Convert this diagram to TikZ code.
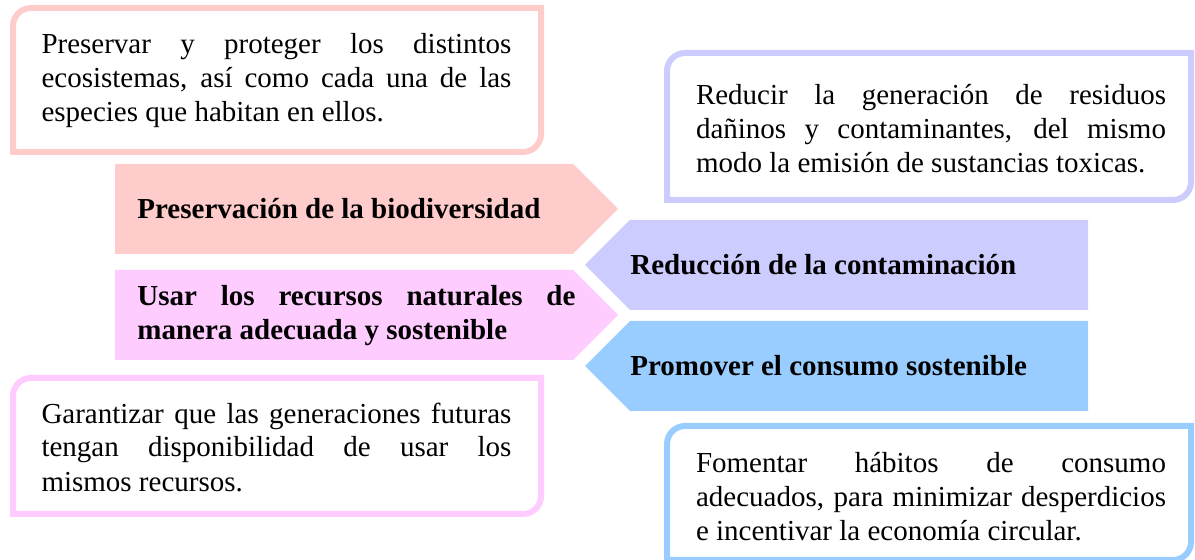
\documentclass[tikz,border=0pt]{standalone}
\usepackage{fontspec}
\setmainfont{Liberation Serif}
\usetikzlibrary{positioning}

\definecolor{pinkA}{HTML}{FFCCCC}
\definecolor{pinkB}{HTML}{FFCCFF}
\definecolor{lilac}{HTML}{CCCCFF}
\definecolor{skyblue}{HTML}{99CCFF}

\begin{document}
\begin{tikzpicture}[
x=0.5pt,y=-0.5pt,
note/.style={
text width=235pt,
align=justify,
inner sep=0pt,
font=\fontsize{14.5}{17}\selectfont,
execute at begin node={\hyphenpenalty=10000\exhyphenpenalty=10000}
},
bartext/.style={
anchor=west,
inner sep=0pt,
font=\fontsize{14.5}{17}\selectfont\bfseries,
execute at begin node={\hyphenpenalty=10000\exhyphenpenalty=10000}
},
frame/.style={
line width=3pt,
line cap=rect,
rounded corners=9pt
}]

\useasboundingbox (0,0) rectangle (1195,560);

% arrows
\fill[pinkA] (115,164) -- (573,164) -- (618,209) -- (573,254) -- (115,254) -- cycle;
\fill[pinkB] (115,270) -- (573,270) -- (618,315) -- (573,360) -- (115,360) -- cycle;
\fill[lilac] (1088,220) -- (630,220) -- (585,265) -- (630,310) -- (1088,310) -- cycle;
\fill[skyblue] (1088,321) -- (630,321) -- (585,366) -- (630,411) -- (1088,411) -- cycle;

\node[bartext] (biodiv) at (137,209) {Preservación de la biodiversidad};
\node[bartext,text width=219pt,align=justify] (recursos) at (137,316)
{Usar los recursos naturales de\linebreak manera adecuada y sostenible};
\node[bartext] (contam) at (630,265) {Reducción de la contaminación};
\node[bartext] (consumo) at (630,366) {Promover el consumo sostenible};

% frames: two rounded corners, two square ones
\draw[frame,draw=pinkA] (541,8) -- (541,152) -- (13,152) (13,152) -- (13,8) -- (541,8);
\draw[frame,draw=lilac] (1191,53) -- (1191,200) -- (667,200) (667,200) -- (667,53) -- (1191,53);
\draw[frame,draw=pinkB] (541,378) -- (541,514) -- (13,514) (13,514) -- (13,378) -- (541,378);
\draw[frame,draw=skyblue] (1191,426) -- (1191,560) -- (667,560) (667,560) -- (667,426) -- (1191,426);

\node[note] (nbiodiv) at (276.5,81)
{Preservar y proteger los distintos\linebreak ecosistemas, así como cada una de las\linebreak especies que habitan en ellos.};
\node[note] (ncontam) at (931,129)
{Reducir la generación de residuos\linebreak dañinos y contaminantes, del mismo\linebreak modo la emisión de sustancias toxicas.};
\node[note] (nrecursos) at (276.5,447)
{Garantizar que las generaciones futuras\linebreak tengan disponibilidad de usar los\linebreak mismos recursos.};
\node[note] (nconsumo) at (931,497)
{Fomentar hábitos de consumo\linebreak adecuados, para minimizar desperdicios\linebreak e incentivar la economía circular.};

\end{tikzpicture}
\end{document}
